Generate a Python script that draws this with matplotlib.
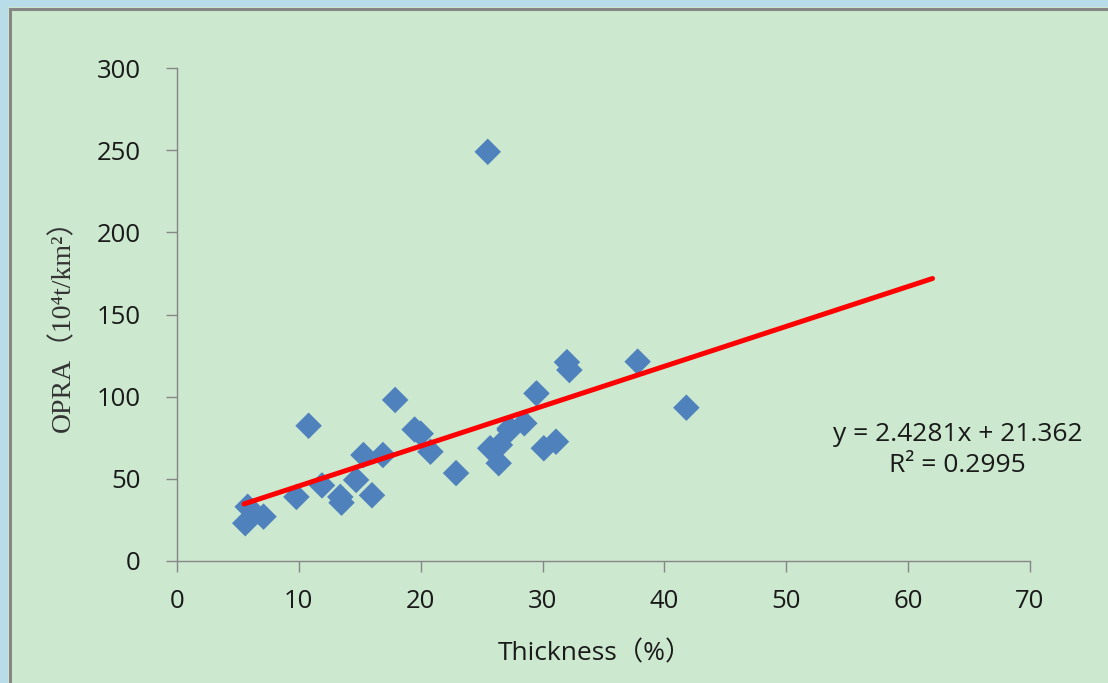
import matplotlib.pyplot as plt
from matplotlib.patches import Rectangle
from matplotlib.lines import Line2D

# data
thickness = [5.6, 5.8, 7.1, 9.8, 10.8, 11.9, 13.4, 13.5, 14.7, 15.3, 16.0, 16.9,
             17.9, 19.5, 20.0, 20.8, 22.9, 25.5, 25.7, 26.4, 26.5, 27.3, 27.3,
             28.5, 29.5, 30.1, 31.1, 32.0, 32.2, 37.8, 41.8]
opra = [23.0, 33.0, 27.0, 39.0, 82.3, 46.0, 39.0, 35.5, 49.3, 64.5, 40.0, 64.5,
        98.0, 80.0, 77.5, 66.5, 53.5, 249.0, 68.6, 59.5, 70.6, 79.7, 80.7,
        83.8, 102.0, 68.6, 72.6, 121.0, 116.2, 121.3, 93.3]

slope, intercept = 2.4281, 21.362
r2 = 0.2995
trend_x = [5.5, 62.0]

xticks = [0, 10, 20, 30, 40, 50, 60, 70]
yticks = [0, 50, 100, 150, 200, 250, 300]

green = "#CCE8CF"
blue = "#B8DCE8"
grey = "#868686"

plt.rcParams["font.family"] = ["Open Sans", "Noto Sans CJK SC", "DejaVu Sans"]

W, H = 1108, 683
fig = plt.figure(figsize=(W / 100, H / 100), dpi=100, facecolor=green)

# window frame: light blue strip and grey border at left/top
fig.patches.append(Rectangle((0, 0), 8 / W, 1, transform=fig.transFigure,
                             facecolor=blue, edgecolor="none"))
fig.patches.append(Rectangle((0, 1 - 7 / H), 1, 7 / H, transform=fig.transFigure,
                             facecolor=blue, edgecolor="none"))
fig.lines.append(Line2D([9.5 / W, 9.5 / W], [0, 1 - 8.5 / H], transform=fig.transFigure,
                        color=grey, linewidth=2.2))
fig.lines.append(Line2D([9.5 / W, 1], [1 - 8.5 / H, 1 - 8.5 / H], transform=fig.transFigure,
                        color=grey, linewidth=2.2))

ax = fig.add_axes([177 / W, 1 - 561 / H, (1030 - 177) / W, (561 - 68) / H])
ax.set_facecolor("none")

ax.scatter(thickness, opra, marker="D", s=13.5 ** 2, color="#4F81BD",
           edgecolors="none", zorder=3)

ty = [slope * x + intercept for x in trend_x]
ax.plot(trend_x, ty, color="#FF0000", linewidth=3.6, solid_capstyle="round", zorder=4)

ax.set_xlim(0, 70)
ax.set_ylim(0, 300)
ax.set_xticks(xticks)
ax.set_yticks(yticks)

for s in ["top", "right"]:
    ax.spines[s].set_visible(False)
for s in ["left", "bottom"]:
    ax.spines[s].set_color(grey)
    ax.spines[s].set_linewidth(1.0)

ax.tick_params(axis="both", colors=grey, labelcolor="#1a1a1a", labelsize=18.5,
               length=8, width=1.0, direction="out")
ax.tick_params(axis="y", pad=18)
ax.tick_params(axis="x", pad=12)

ax.set_xlabel("Thickness（%）", fontsize=19, color="#1a1a1a")
ax.xaxis.set_label_coords(0.49, -0.163)
ax.set_ylabel("OPRA（10⁴t/km²）", fontsize=20, color="#333333",
              family=["Liberation Serif", "Noto Sans CJK SC", "DejaVu Serif"])
ax.yaxis.set_label_coords(-0.118, 0.49)

ax.text(0.915, 0.225, f"y = {slope}x + {intercept}\nR² = {r2}", transform=ax.transAxes,
        ha="center", va="center", fontsize=19, color="#1a1a1a", linespacing=1.3)

fig.savefig("out.png", dpi=100, facecolor=green)
